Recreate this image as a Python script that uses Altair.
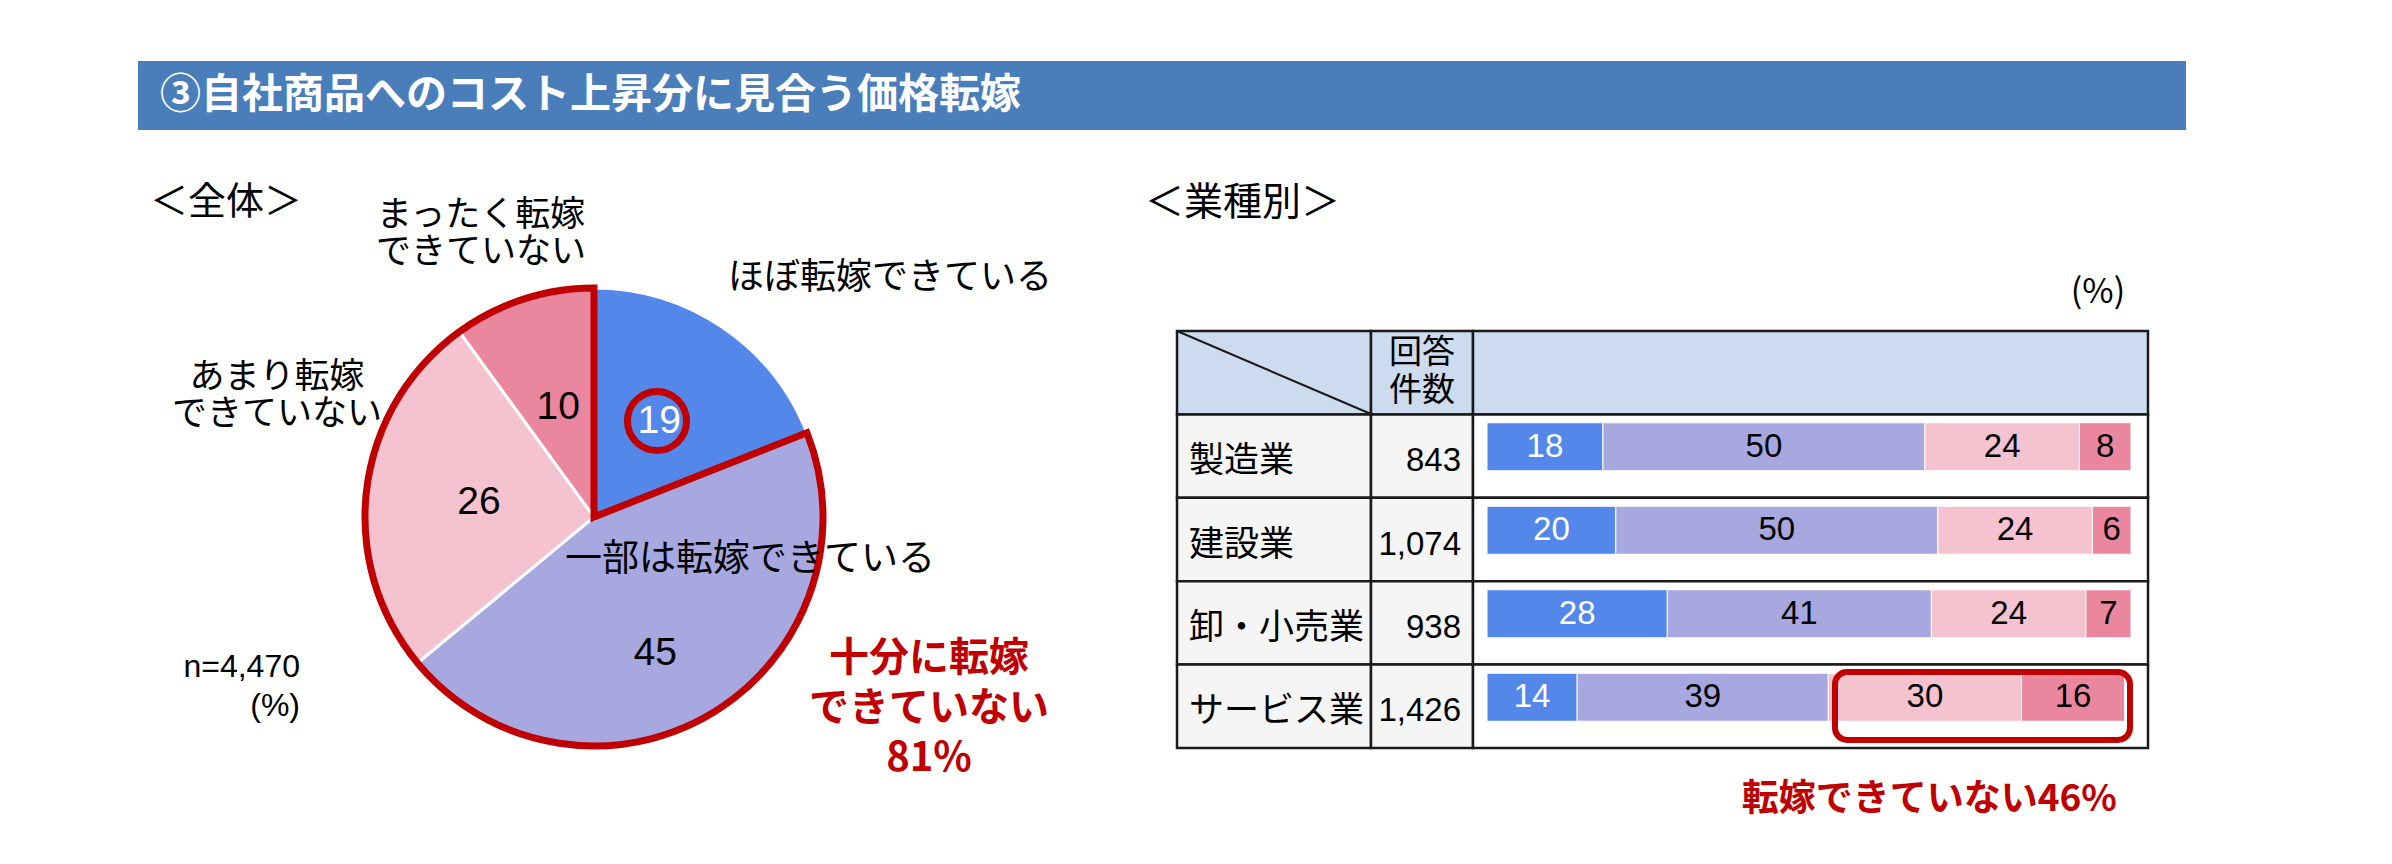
import altair as alt
import pandas as pd

# ---------------- data ----------------
TITLE = "③自社商品へのコスト上昇分に見合う価格転嫁"
PIE_CATS = ["ほぼ転嫁できている", "一部は転嫁できている", "あまり転嫁できていない", "まったく転嫁できていない"]
PIE_VALUES = [19, 45, 26, 10]
CAT_COLORS = ["#5388EA", "#A8A8E0", "#F5C3CF", "#EA879F"]
N_TOTAL = 4470
NOT_ENOUGH = 81

INDUSTRIES = ["製造業", "建設業", "卸・小売業", "サービス業"]
COUNTS = [843, 1074, 938, 1426]
VAL_ALMOST = [18, 20, 28, 14]
VAL_PARTLY = [50, 50, 41, 39]
VAL_LITTLE = [24, 24, 24, 30]
VAL_NONE = [8, 6, 7, 16]
SERVICE_NOT = 46

# ---------------- style ----------------
JP = "Noto Sans CJK JP"
NUM = "Liberation Sans"
RED = "#C00000"
BAR_BLUE = "#4A7EBB"
HEADER_FILL = "#CDDBEE"
CELL_GRAY = "#F5F5F5"
LINE = "#1A1A1A"
O = 8


def px(v):
    return v - O


def one():
    return pd.DataFrame({"k": [0]})


def label(text, x, y, size, align="left", color="black", weight="normal",
          font=JP, line_height=None):
    """y is the centre of the first line."""
    kw = dict(align=align, baseline="middle", fontSize=size, font=font,
              color=color, fontWeight=weight)
    if "\n" in text:
        kw.update(lineBreak="\n", lineHeight=line_height)
    return alt.Chart(pd.DataFrame({"t": [text]})).mark_text(**kw).encode(
        text="t:N", x=alt.value(px(x)), y=alt.value(px(y)))


layers = []

# title bar
layers.append(alt.Chart(one()).mark_rect(color=BAR_BLUE).encode(
    x=alt.value(px(138)), x2=alt.value(px(2186)),
    y=alt.value(px(61)), y2=alt.value(px(130))))
layers.append(label(TITLE, 160, 96, 41, color="white", weight="bold"))

# ---------------- pie ----------------
pie_df = pd.DataFrame({"cat": PIE_CATS, "v": PIE_VALUES, "o": [0, 1, 2, 3]})
CX, CY = px(594), px(517)
R = 229
theta = alt.Theta("v:Q", stack=True)
order = alt.Order("o:Q")
color = alt.Color("cat:N", scale=alt.Scale(domain=PIE_CATS, range=CAT_COLORS), legend=None)

layers.append(alt.Chart(pie_df).mark_arc(radius=R, stroke="white", strokeWidth=3).encode(
    theta=theta, order=order, color=color, x=alt.value(CX), y=alt.value(CY)))

layers.append(
    alt.Chart(pie_df)
    .transform_calculate(g="datum.o == 0 ? 'a' : 'b'")
    .transform_aggregate(s="sum(v)", groupby=["g"])
    .mark_arc(radius=R, fillOpacity=0, stroke=RED, strokeWidth=7, strokeJoin="miter")
    .encode(theta=alt.Theta("s:Q", stack=True), order=alt.Order("g:O"),
            strokeOpacity=alt.condition("datum.g == 'b'", alt.value(1), alt.value(0)),
            x=alt.value(CX), y=alt.value(CY)))

# value labels
layers.append(alt.Chart(pie_df).mark_text(radius=116, fontSize=39, font=NUM).encode(
    theta=theta, order=order, text="v:Q",
    color=alt.condition("datum.o == 0", alt.value("white"), alt.value("black")),
    opacity=alt.condition("datum.o == 1", alt.value(0), alt.value(1)),
    x=alt.value(CX), y=alt.value(CY)))
layers.append(alt.Chart(pie_df).mark_text(radius=150, fontSize=39, font=NUM, dx=-15, dy=7).encode(
    theta=theta, order=order, text="v:Q",
    opacity=alt.condition("datum.o == 1", alt.value(1), alt.value(0)),
    x=alt.value(CX), y=alt.value(CY)))

# red circle around 19
layers.append(alt.Chart(one()).mark_point(shape="circle", size=3481, filled=False,
                                          stroke=RED, strokeWidth=7, opacity=1).encode(
    x=alt.value(px(657)), y=alt.value(px(421))))

# pie annotations
layers.append(label("＜全体＞", 150, 203, 38))
layers.append(label("まったく転嫁\nできていない", 481, 215, 35, align="center", line_height=37))
layers.append(label("ほぼ転嫁できている", 728, 278, 36))
layers.append(label("あまり転嫁\nできていない", 277, 377, 35, align="center", line_height=37))
layers.append(label("一部は転嫁できている", 565, 560, 37))
layers.append(label(f"n={N_TOTAL:,}\n(%)", 300, 667, 32, align="right", font=NUM, line_height=39))
layers.append(label(f"十分に転嫁\nできていない\n{NOT_ENOUGH}%", 929, 659, 40, align="center",
                    color=RED, weight="bold", line_height=50))

# ---------------- table ----------------
layers.append(label("＜業種別＞", 1145, 203, 39))
layers.append(label("(%)", 2098, 293, 34, align="center"))

ROW_KEYS = ["header"] + INDUSTRIES
row_scale = alt.Scale(domain=ROW_KEYS, range=[px(331), px(748)], paddingInner=0, paddingOuter=0)
tbl_df = pd.DataFrame({"row": ROW_KEYS})


def cell_layer(x0, x1, body_fill):
    return alt.Chart(tbl_df).mark_rect(stroke=LINE, strokeWidth=2.5).encode(
        y=alt.Y("row:N", scale=row_scale, axis=None),
        x=alt.value(px(x0)), x2=alt.value(px(x1)),
        fill=alt.condition("datum.row == 'header'", alt.value(HEADER_FILL), alt.value(body_fill)))


layers.append(cell_layer(1177, 1371, CELL_GRAY))
layers.append(cell_layer(1371, 1473, CELL_GRAY))
layers.append(cell_layer(1473, 2148, "white"))

layers.append(alt.Chart(one()).mark_rule(color=LINE, strokeWidth=2).encode(
    x=alt.value(px(1177)), x2=alt.value(px(1371)),
    y=alt.value(px(331)), y2=alt.value(px(414))))

layers.append(label("回答\n件数", 1422, 353, 33, align="center", line_height=38))

ind_df = pd.DataFrame({"ind": INDUSTRIES, "n": COUNTS})
layers.append(alt.Chart(ind_df).mark_text(align="left", baseline="middle", fontSize=35,
                                          font=JP, dy=5).encode(
    y=alt.Y("ind:N", scale=row_scale, axis=None), x=alt.value(px(1189)), text="ind:N"))
layers.append(alt.Chart(ind_df).mark_text(align="right", baseline="middle", fontSize=33,
                                          font=NUM, dy=5).encode(
    y=alt.Y("ind:N", scale=row_scale, axis=None), x=alt.value(px(1461)),
    text=alt.Text("n:Q", format=",")))

# stacked bars
rows = []
for i, ind in enumerate(INDUSTRIES):
    for j, vals in enumerate([VAL_ALMOST, VAL_PARTLY, VAL_LITTLE, VAL_NONE]):
        rows.append({"ind": ind, "cat": PIE_CATS[j], "v": vals[i], "o": j})
bar_df = pd.DataFrame(rows)

bar_x = alt.Scale(domain=[0, 100], range=[px(1487), px(2131)])
bar_y = alt.Scale(domain=INDUSTRIES, range=[px(414 - 9), px(748 - 9)], paddingInner=0, paddingOuter=0)

stacked = alt.Chart(bar_df).transform_stack(
    stack="v", as_=["v0", "v1"], groupby=["ind"], sort=[alt.SortField("o", order="ascending")])

layers.append(stacked.mark_bar(size=48, stroke="white", strokeWidth=1).encode(
    x=alt.X("v0:Q", scale=bar_x, axis=None), x2="v1:Q",
    y=alt.Y("ind:N", scale=bar_y, axis=None), color=color))

layers.append(stacked.transform_calculate(mid="(datum.v0 + datum.v1) / 2").mark_text(
    fontSize=33, font=NUM, baseline="middle").encode(
    x=alt.X("mid:Q", scale=bar_x, axis=None),
    y=alt.Y("ind:N", scale=bar_y, axis=None), text="v:Q",
    color=alt.condition("datum.o == 0", alt.value("white"), alt.value("black"))))

# highlight box on サービス業
layers.append(alt.Chart(one()).mark_rect(fillOpacity=0, stroke=RED, strokeWidth=6,
                                         cornerRadius=12).encode(
    x=alt.value(px(1835)), x2=alt.value(px(2130)),
    y=alt.value(px(672)), y2=alt.value(px(740))))
layers.append(label(f"転嫁できていない{SERVICE_NOT}%", 2117, 800, 37, align="right",
                    color=RED, weight="bold"))

chart = alt.layer(*layers).resolve_scale(
    x="independent", y="independent"
).properties(
    width=2376, height=848, padding=0, autosize=alt.AutoSizeParams(type="none")
).configure_view(stroke=None)

chart.save("out.html", embed_options={"renderer": "svg", "actions": False})
